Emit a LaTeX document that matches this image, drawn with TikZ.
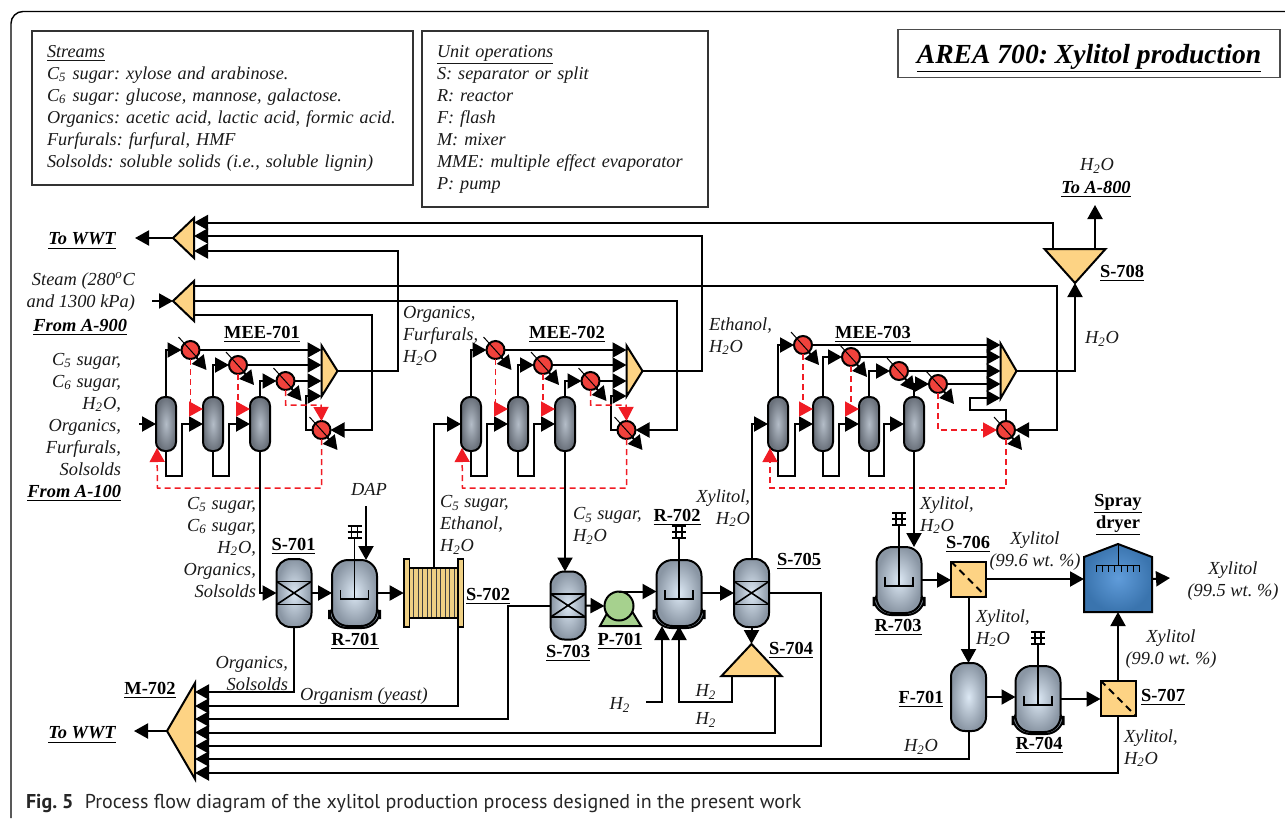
\documentclass[tikz,border=0pt]{standalone}
\usepackage{fontspec}
\setmainfont{Liberation Serif}
\newfontfamily\capfont{PT Sans}
\usetikzlibrary{arrows.meta,shapes.geometric}
\definecolor{vlight}{HTML}{DCE8F4}
\definecolor{vdark}{HTML}{8A96A4}
\definecolor{clight}{HTML}{B4BDC8}
\definecolor{cdark}{HTML}{6A717B}
\definecolor{tank}{HTML}{FDD384}
\definecolor{filt}{HTML}{EFD084}
\definecolor{hotred}{HTML}{F0423C}
\definecolor{dash}{HTML}{F01C24}
\definecolor{pumpg}{HTML}{A6D18E}
\definecolor{dryl}{HTML}{609CDA}
\definecolor{dryd}{HTML}{3A74AE}
\frenchspacing
\newcommand{\HtwoO}{H\textsubscript{2}O}
\newcommand{\Hyd}{H\textsubscript{2}}
\newcommand{\Cfive}{C\textsubscript{5}}
\newcommand{\Csix}{C\textsubscript{6}}
% exchanger with its slash and its outlet
\newcommand{\hx}[3]{
  \node[hxr] (#1) at ({#2},#3) {};
  \draw[line width=.5pt] ([shift={(-12,-13)}]#1.center) -- ([shift={(7,8)}]#1.center);
  \coordinate (#1o) at ([shift={(16,20)}]#1.center);
  \draw[arr] (#1) -- (#1o);
}
% stirred tank
\newcommand{\reactor}[3]{
  \begin{scope}[shift={(#2,#3)}]
    \draw[line width=1pt, fill=vdark, rounded corners=9pt] (-25.5,8) -- (-25.5,35) -- (25.5,35) -- (25.5,8) -- cycle;
    \node[vessel, minimum width=22.5pt, minimum height=33pt, rounded corners=8pt] (#1) at (0,0) {};
    \draw[line width=.8pt] (-14,-3) -- (-14,6) -- (14,6) -- (14,-3) (0,6) -- (0,-55);
    \draw[line width=.8pt, fill=white] (-3,-67) rectangle (3,-55);
    \draw[line width=.9pt] (-7,-67) -- (7,-67) (-7,-61) -- (7,-61) (-7,-55) -- (7,-55);
  \end{scope}
}
% three effect train, #2 is the x offset
\newcommand{\meetrain}[2]{
  \foreach \nn/\xx in {1/166,2/213,3/260}
    \node[col] (#1c\nn) at ({\xx+#2},424) {};
  \hx{#1e1}{190.5+#2}{350}
  \hx{#1e2}{238+#2}{365}
  \hx{#1e3}{285.5+#2}{381}
  \hx{#1e4}{321.5+#2}{430}
  \node[triR, minimum width=25.5pt, minimum height=8pt, anchor=apex] (#1m) at ({337.5+#2},371) {};
  \draw[arr] (#1c1.north) |- (#1e1.west);
  \draw[arr] (#1c2.north) |- (#1e2.west);
  \draw[arr] (#1c3.north) |- (#1e3.west);
  \draw[arr] (#1c1.south) |- ++(16,25) |- (#1c2.west);
  \draw[arr] (#1c2.south) |- ++(16,25) |- (#1c3.west);
  \draw[arr] (#1e1.east) -- (#1e1.east -| #1m.lower side);
  \draw[arr] (#1e2.east) -- (#1e2.east -| #1m.lower side);
  \draw[arr] (#1e3.east) -- (#1e3.east -| #1m.lower side);
  \draw[arr] (#1e4.west) -- ++(-7,0) |- ([shift={(0,25)}]#1m.lower side);
  \draw[redarr] (#1e1.south) |- ([shift={(0,-15)}]#1c2.west);
  \draw[redarr] (#1e2.south) |- ([shift={(0,-15)}]#1c3.west);
  \draw[redarr] (#1e3.south) |- ++(35.5,15) -- (#1e4.north);
  \draw[redarr] (#1e4.south) |- ++(-164,49) -- ([shift={(-9,24)}]#1c1.center);
}
\begin{document}
\begin{tikzpicture}[x=.5pt, y=-.5pt,
  every node/.style={inner sep=0pt, outer sep=0pt},
  arr/.style={-{Triangle[length=7pt, width=7.5pt]}, line width=1pt},
  redarr/.style={-{Triangle[length=7pt, width=7.5pt]}, line width=.75pt, draw=dash, dash pattern=on 3pt off 2pt},
  lab/.style={font={\fontsize{9.2}{11}\selectfont\itshape}, text=black!90, yshift=-1pt},
  tag/.style={font={\fontsize{9.2}{11}\selectfont\bfseries}, align=center, yshift=-1pt},
  src/.style={font={\fontsize{9.2}{11}\selectfont\bfseries\itshape}, yshift=-1.5pt},
  legend/.style={draw=black!80, line width=.8pt, anchor=north west, align=left, inner xsep=7.5pt, text=black!90,
    font={\fontsize{9.1}{11}\selectfont\itshape}},
  col/.style={draw, line width=1pt, minimum width=10pt, minimum height=27pt, rounded corners=4.5pt, inner color=clight, outer color=cdark},
  vessel/.style={draw, line width=1pt, minimum width=17.5pt, minimum height=34pt, rounded corners=7pt, inner color=vlight, outer color=vdark},
  packed/.style={vessel, path picture={
    \draw[line width=.8pt, sharp corners] ([yshift=5.8pt]path picture bounding box.west) rectangle ([yshift=-5.8pt]path picture bounding box.east);
    \draw[line width=.8pt, sharp corners] ([yshift=5.8pt]path picture bounding box.west) -- ([yshift=-5.8pt]path picture bounding box.east)
      ([yshift=-5.8pt]path picture bounding box.west) -- ([yshift=5.8pt]path picture bounding box.east);}},
  sqr/.style={draw, line width=1pt, fill=tank, minimum size=17.5pt, path picture={
    \draw[line width=1pt, dash pattern=on 3.5pt off 2.5pt] (path picture bounding box.north west) -- (path picture bounding box.south east);}},
  hxr/.style={circle, draw, line width=1pt, fill=hotred, minimum size=9pt},
  triR/.style={draw, line width=1pt, fill=tank, isosceles triangle, isosceles triangle stretches},
  triL/.style={triR, shape border rotate=180},
  triU/.style={triR, shape border rotate=90},
  triD/.style={triR, shape border rotate=270},
  flange/.style={draw, line width=.8pt, fill=filt, minimum width=2.8pt, minimum height=34pt},
  ]
  \useasboundingbox (0,0) rectangle (1285,820);
  \draw[line width=.7pt, rounded corners=6pt] (11,818) -- (11,11.5) -- (1285,11.5);

  % legend boxes and title
  \node[legend, text width=175.5pt, minimum height=77pt] (streams) at (32,31) {\underline{Streams}\\
    \Cfive{} sugar: xylose and arabinose.\\
    \Csix{} sugar: glucose, mannose, galactose.\\
    Organics: acetic acid, lactic acid, formic acid.\\
    Furfurals: furfural, HMF\\
    Solsolds: soluble solids (i.e., soluble lignin)};
  \node[legend, text width=128pt, minimum height=88pt] (units) at (422,31) {\underline{Unit operations}\\
    S: separator or split\\
    R: reactor\\
    F: flash\\
    M: mixer\\
    MME: multiple effect evaporator\\
    P: pump};
  \node[draw=black!70, line width=.8pt, minimum width=191pt, minimum height=24pt, text height=11.5pt, text depth=2pt, font={\fontsize{13.8}{15}\selectfont\bfseries\itshape}] (title) at (1089,53.5) {\underline{AREA 700: Xylitol production}};

  % mixers and splitters on the left
  \node[triL, minimum width=20pt, minimum height=10.5pt, anchor=apex] (waste) at (173,238) {};
  \node[triL, minimum width=20pt, minimum height=10.5pt, anchor=apex] (steam) at (173,301) {};
  \node[triL, minimum width=48pt, minimum height=14pt, anchor=apex] (m702) at (167,731) {};
  \node[triD, minimum width=30.5pt, minimum height=17pt, anchor=apex] (s708) at (1075,283) {};
  \node[triU, minimum width=30pt, minimum height=16pt, anchor=apex] (s704) at (751.5,644) {};

  % evaporator trains
  \meetrain{a}{0}
  \meetrain{b}{305}
  \foreach \nn/\xx in {1/778,2/823,3/869,4/914}
    \node[col] (cc\nn) at (\xx,424) {};
  \hx{ce1}{803}{345}
  \hx{ce2}{851}{357}
  \hx{ce3}{899}{371}
  \hx{ce4}{938}{384}
  \hx{ce5}{1006}{430}
  \node[triR, minimum width=27.5pt, minimum height=8pt, anchor=apex] (cm) at (1016.5,371) {};

  % process units
  \node[packed] (s701) at (294,593) {};
  \reactor{r701}{354.5}{593}
  \node[draw, line width=.8pt, fill=filt, minimum width=24.5pt, minimum height=25pt, path picture={
    \foreach \k in {1,...,10}
      \draw[line width=.5pt, black!75] ([xshift=\k*2.25pt]path picture bounding box.north west) -- ([xshift=\k*2.25pt]path picture bounding box.south west);
  }] (s702) at (433.5,593) {};
  \node[flange] (s702l) at (406.5,593) {};
  \node[flange] (s702r) at (460.5,593) {};
  \node[packed] (s703) at (568,605.5) {};
  \draw[line width=1pt, fill=pumpg] (600,626) -- (610,608) -- (630,608) -- (641,626) -- cycle;
  \node[circle, draw, line width=1pt, fill=pumpg, minimum size=14.5pt] (p701) at (619,606) {};
  \reactor{r702}{679}{593}
  \node[packed] (s705) at (751.5,593) {};
  \reactor{r703}{899}{580}
  \node[sqr] (s706) at (968.5,579) {};
  \node[vessel] (f701) at (968.5,697) {};
  \reactor{r704}{1038}{699}
  \node[sqr] (s707) at (1118,698) {};
  \draw[line width=1pt, inner color=dryl, outer color=dryd] (1084,612) -- (1084,557) -- (1118,544) -- (1152,557) -- (1152,612) -- cycle;
  \node[minimum width=34pt, minimum height=27.5pt] (dryer) at (1118,584.5) {};
  \draw[line width=.5pt] (1118,544) -- (1118,565) (1096,565) -- (1140,565);
  \foreach \k in {0,...,7}
    \draw[line width=.5pt] ({1096+\k*6.28},565) -- ++(0,7);

  % free stream ends
  \coordinate (wwt1) at (135,238);
  \coordinate (wwt2) at (134,731);
  \coordinate (steamin) at (152,301);
  \coordinate (feed) at (139,424);
  \coordinate (dapin) at (366,506);
  \coordinate (h2in) at (646,702);
  \coordinate (a800) at (1095,205);
  \coordinate (prod) at (1170,578);

  % streams
  \draw[arr] (waste.apex) -- (wwt1);
  \draw[arr] (steamin) -- (steam.apex);
  \draw[arr] (m702.apex) -- (wwt2);
  \draw[arr] (feed) -- (ac1.west);
  \draw[arr] (ac3.south) |- (s701.west);
  \draw[arr] (s701.east) -- (r701.west);
  \draw[arr] (dapin) -- (dapin |- r701.north);
  \draw[arr] (r701.east) -- (s702l.west);
  \draw[arr] (s702.north) |- (bc1.west);
  \draw[arr] (bc3.south) -- (bc3.south |- s703.north);
  \draw[arr] (s703.east) -- (p701.west);
  \draw[arr] (p701.north) -- (p701.north -| r702.west);
  \draw[arr] (r702.east) -- (s705.west);
  \draw[arr] (s705.south) -- (s704.apex);
  \draw[arr] ([shift={(-20,0)}]s704.lower side) -- ++(0,26) -| (r702.south);
  \draw[arr] (h2in) -| ([shift={(-17,0)}]r702.south);
  \draw[arr] (s705.north) |- (cc1.west);

  \draw[arr] (cc1.north) |- (ce1.west);
  \draw[arr] (cc2.north) |- (ce2.west);
  \draw[arr] (cc3.north) |- (ce3.west);
  \draw[arr] (cc4.north) |- (ce4.west);
  \draw[arr] (cc1.south) |- ++(17,25) |- (cc2.west);
  \draw[arr] (cc2.south) |- ++(16,25) |- (cc3.west);
  \draw[arr] (cc3.south) |- ++(15,25) |- (cc4.west);
  \draw[arr] (ce1.east) -- (ce1.east -| cm.lower side);
  \draw[arr] (ce2.east) -- (ce2.east -| cm.lower side);
  \draw[arr] (ce3.east) -- (ce3.east -| cm.lower side);
  \draw[arr] (ce4.east) -- (ce4.east -| cm.lower side);
  \draw[arr] (ce5.north) |- ++(-36,-11) |- ([shift={(0,27)}]cm.lower side);
  \draw[redarr] (ce1.south) |- ([shift={(0,-15)}]cc2.west);
  \draw[redarr] (ce2.south) |- ([shift={(0,-15)}]cc3.west);
  \draw[redarr] (ce4.south) |- (ce5.west);
  \draw[redarr] (ce5.south) |- ++(-236,49) -- ([shift={(-8,24)}]cc1.center);

  \draw[arr] (cc4.south) -- (cc4.south |- r703.north);
  \draw[arr] (r703.east) -- (r703.east -| s706.west);
  \draw[arr] (s706.east) -- (s706.east -| dryer.west);
  \draw[arr] (dryer.east |- s706.east) -- (prod);
  \draw[arr] (s706.south) -- (f701.north);
  \draw[arr] (f701.east) -- (f701.east -| r704.west);
  \draw[arr] (r704.east) -- (r704.east -| s707.west);
  \draw[arr] (s707.north) -- (dryer.south);

  \draw[arr] (cm.apex) -| (s708.apex);
  \draw[arr] ([shift={(20,0)}]s708.lower side) -- (a800);
  \draw[arr] ([shift={(-22,0)}]s708.lower side) |- ([shift={(0,-15.5)}]waste.lower side);
  \draw[arr] (bm.apex) -- ++(59,0) |- ([shift={(0,-2)}]waste.lower side);
  \draw[arr] (am.apex) -- ++(60,0) |- ([shift={(0,13)}]waste.lower side);
  \draw[arr] (steam.lower side) -- ++(483,0) |- (be4.east);
  \draw[arr] ([shift={(0,14)}]steam.lower side) -- ++(178,0) |- (ae4.east);
  \draw[arr] ([shift={(0,-15)}]steam.lower side) -- ++(863,0) |- (ce5.east);

  \draw[arr] (s701.south) |- ([shift={(0,-39)}]m702.lower side);
  \draw[arr] (s702r.south west) |- ([shift={(0,-25)}]m702.lower side);
  \draw[arr] (s703.west) -- ++(-43,0) |- ([shift={(0,-12)}]m702.lower side);
  \draw[arr] ([shift={(23,0)}]s704.lower side) |- ([shift={(0,1.5)}]m702.lower side);
  \draw[arr] (s705.east) -- ++(52,0) |- ([shift={(0,15)}]m702.lower side);
  \draw[arr] (f701.south) |- ([shift={(0,28)}]m702.lower side);
  \draw[arr] (s707.south) |- ([shift={(0,42)}]m702.lower side);

  % unit tags
  \node[tag] (tmee1) at (262,332) {\underline{MEE-701}};
  \node[tag] (tmee2) at (567,332) {\underline{MEE-702}};
  \node[tag] (tmee3) at (873,332) {\underline{MEE-703}};
  \node[tag] (ts701) at (293.5,544) {\underline{S-701}};
  \node[tag] (tr701) at (355,639) {\underline{R-701}};
  \node[tag] (ts702) at (488,594) {\underline{S-702}};
  \node[tag] (ts703) at (568,651) {\underline{S-703}};
  \node[tag] (tp701) at (620,639) {\underline{P-701}};
  \node[tag] (tr702) at (677,515) {\underline{R-702}};
  \node[tag] (ts705) at (799,559) {\underline{S-705}};
  \node[tag] (ts704) at (791,648) {\underline{S-704}};
  \node[tag] (tm702) at (150,688) {\underline{M-702}};
  \node[tag] (tr703) at (898,625) {\underline{R-703}};
  \node[tag] (ts706) at (968,542) {\underline{S-706}};
  \node[tag] (tf701) at (921,697) {\underline{F-701}};
  \node[tag] (tr704) at (1039,743) {\underline{R-704}};
  \node[tag] (ts707) at (1163,695) {\underline{S-707}};
  \node[tag] (ts708) at (1122,271) {\underline{S-708}};
  \node[tag] (tdry) at (1118,513) {\underline{Spray}\\\underline{dryer}};

  % stream labels
  \node[src] (lwwt1) at (82,238) {\underline{To WWT}};
  \node[src] (lwwt2) at (82,732) {\underline{To WWT}};
  \node[src, anchor=east] (la900) at (127,324) {\underline{From A-900}};
  \node[src, anchor=east] (la100) at (121,490) {\underline{From A-100}};
  \node[src] (la800) at (1096,186) {\underline{To A-800}};
  \node[lab] (lw8) at (1097,164) {\HtwoO};
  \node[lab, align=right, anchor=east] (lsteam) at (135,290) {Steam (280\textsuperscript{o}C\\and 1300 kPa)};
  \node[lab, align=right, anchor=east] (lfeed) at (121,412.5) {\Cfive{} sugar,\\\Csix{} sugar,\\\HtwoO,\\Organics,\\Furfurals,\\Solsolds};
  \node[lab, align=left, anchor=west] (lorg1) at (403,334) {Organics,\\Furfurals,\\\HtwoO};
  \node[lab, align=left, anchor=west] (leth) at (709,334) {Ethanol,\\\HtwoO};
  \node[lab, align=left, anchor=west] (lh2ow) at (1085,337) {\HtwoO};
  \node[lab, align=right, anchor=east] (la3) at (256,545) {\Cfive{} sugar,\\\Csix{} sugar,\\\HtwoO,\\Organics,\\Solsolds};
  \node[lab] (ldap) at (369,487) {DAP};
  \node[lab, align=left, anchor=west] (lb1) at (440,523) {\Cfive{} sugar,\\Ethanol,\\\HtwoO};
  \node[lab, align=left, anchor=west] (lb3) at (573,524) {\Cfive{} sugar,\\\HtwoO};
  \node[lab, align=right, anchor=east] (ls705) at (750,506) {Xylitol,\\\HtwoO};
  \node[lab, align=left, anchor=west] (lc4) at (920,513) {Xylitol,\\\HtwoO};
  \node[lab, align=center] (lx996) at (1035,549.5) {Xylitol\\(99.6 wt. \%)};
  \node[lab, align=center] (lx995) at (1233,579) {Xylitol\\(99.5 wt. \%)};
  \node[lab, align=center] (lx990) at (1171,647.5) {Xylitol\\(99.0 wt. \%)};
  \node[lab, align=left, anchor=west] (ls706) at (976,626) {Xylitol,\\\HtwoO};
  \node[lab, align=left, anchor=west] (ls707) at (1124,746) {Xylitol,\\\HtwoO};
  \node[lab] (lf701) at (921,745) {\HtwoO};
  \node[lab, align=right, anchor=east] (ls701) at (288,671) {Organics,\\Solsolds};
  \node[lab] (lyeast) at (364,694) {Organism (yeast)};
  \node[lab] (lh2a) at (620,703) {\Hyd};
  \node[lab] (lh2b) at (706,690) {\Hyd};
  \node[lab] (lh2c) at (706,718) {\Hyd};

  % caption
  \node[anchor=west, font={\fontsize{10}{12}\selectfont\capfont}, text=black!85] (caption) at (26,803) {\textbf{Fig. 5}\hspace{3pt} Process flow diagram of the xylitol production process designed in the present work};
\end{tikzpicture}
\end{document}
